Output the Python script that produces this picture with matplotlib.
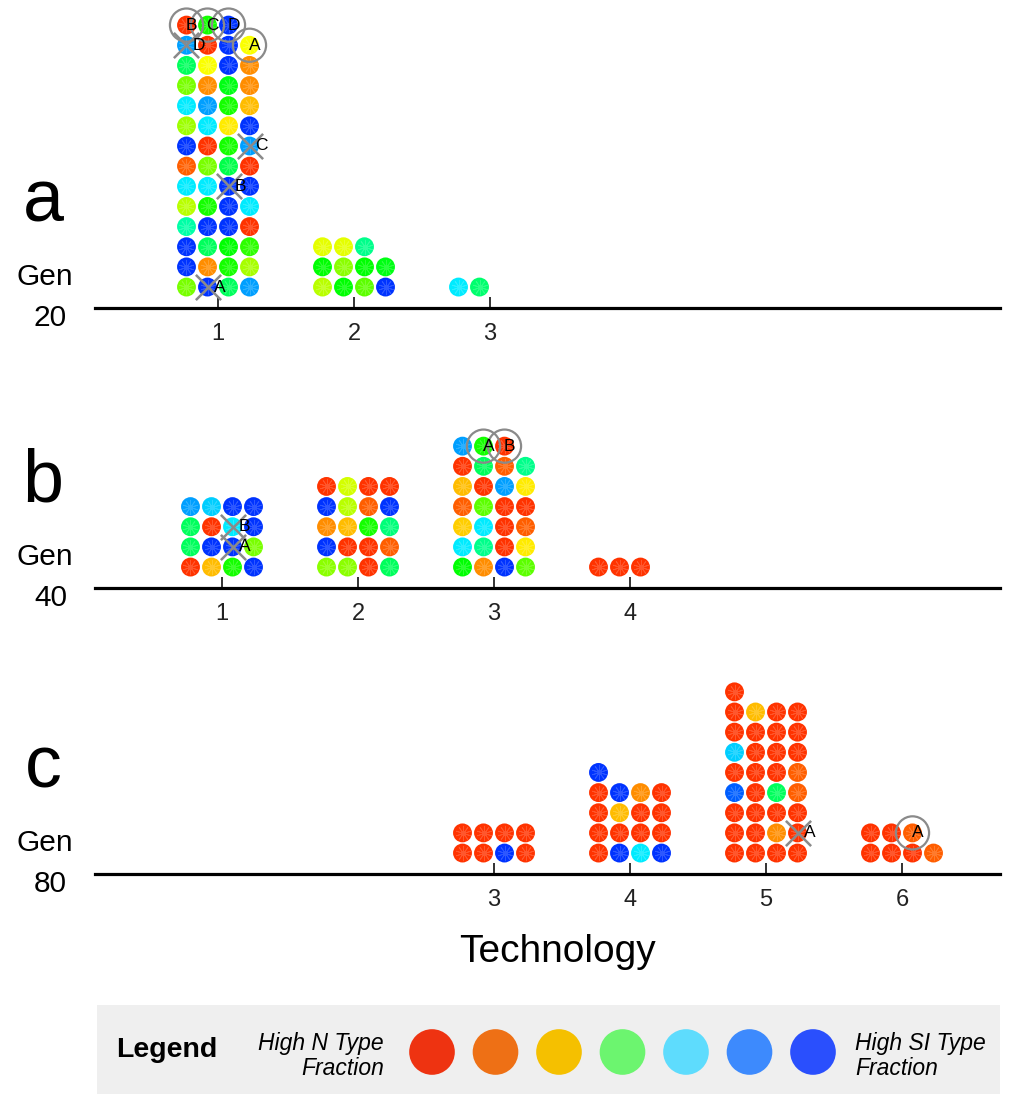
import numpy as np
import matplotlib
matplotlib.use("Agg")
import matplotlib.pyplot as plt
import matplotlib.colors as mcolors

plt.rcParams["font.family"] = ["Liberation Sans", "DejaVu Sans"]

# composition of each individual: 0 = high N type fraction, 1 = high SI type fraction
# listed per technology, filled bottom row first, left to right, four per row
GEN20 = {
    1: [0.37, 1.0, 0.6, 0.88,
        1.0, 0.1, 0.48, 0.32,
        1.0, 0.6, 0.5, 0.45,
        0.68, 1.0, 1.0, 0.0,
        0.3, 0.48, 1.0, 0.8,
        0.8, 0.8, 1.0, 1.0,
        0.05, 0.37, 0.58, 0.0,
        1.0, 0.0, 0.48, 0.88,
        0.33, 0.8, 0.2, 1.0,
        0.8, 0.88, 0.48, 0.15,
        0.37, 0.1, 0.52, 0.1,
        0.6, 0.23, 1.0, 0.1,
        0.88, 0.0, 1.0, 0.23,
        0.0, 0.48, 1.0],
    2: [0.3, 0.5, 0.4, 1.0,
        0.5, 0.35, 0.5, 0.52,
        0.25, 0.25, 0.65],
    3: [0.8, 0.62],
}
GEN40 = {
    1: [0.0, 0.15, 0.48, 1.0,
        0.6, 1.0, 1.0, 0.37,
        0.6, 0.0, 0.8, 1.0,
        0.88, 0.83, 1.0, 1.0],
    2: [0.35, 0.35, 0.0, 0.6,
        1.0, 0.0, 0.0, 0.05,
        0.1, 0.15, 0.48, 0.63,
        1.0, 0.3, 0.05, 1.0,
        0.0, 0.27, 0.0, 0.0],
    3: [0.5, 0.1, 1.0, 0.4,
        0.8, 0.65, 0.0, 0.2,
        0.17, 0.8, 0.0, 0.05,
        0.05, 0.4, 0.0, 0.0,
        0.15, 0.0, 0.88, 0.2,
        0.0, 0.6, 0.05, 0.65,
        0.88, 0.48, 0.0],
    4: [0.0, 0.0, 0.0],
}
GEN80 = {
    3: [0.0, 0.0, 1.0, 0.0,
        0.0, 0.0, 0.0, 0.0],
    4: [0.0, 1.0, 0.8, 1.0,
        0.0, 0.0, 0.0, 0.0,
        0.0, 0.15, 0.0, 0.0,
        0.0, 1.0, 0.1, 0.0,
        1.0],
    5: [0.0, 0.0, 0.0, 0.0,
        0.0, 0.0, 0.1, 0.0,
        0.0, 0.0, 0.0, 0.0,
        0.95, 0.0, 0.6, 0.05,
        0.0, 0.0, 0.0, 0.05,
        0.83, 0.0, 0.0, 0.0,
        0.0, 0.0, 0.0, 0.0,
        0.0, 0.15, 0.0, 0.0,
        0.0],
    6: [0.0, 0.0, 0.0, 0.05,
        0.0, 0.0, 0.05],
}

# marked individuals: (kind, technology, index in stack, label)
MARKS20 = [("ring", 1, 52, "B"), ("ring", 1, 53, "C"), ("ring", 1, 54, "D"),
           ("ring", 1, 51, "A"), ("cross", 1, 48, "D"), ("cross", 1, 31, "C"),
           ("cross", 1, 22, "B"), ("cross", 1, 1, "A")]
MARKS40 = [("cross", 1, 10, "B"), ("cross", 1, 6, "A"),
           ("ring", 3, 25, "A"), ("ring", 3, 26, "B")]
MARKS80 = [("cross", 5, 7, "A"), ("ring", 6, 6, "A")]

PANELS = [("a", "20", GEN20, MARKS20, [1, 2, 3]),
          ("b", "40", GEN40, MARKS40, [1, 2, 3, 4]),
          ("c", "80", GEN80, MARKS80, [3, 4, 5, 6])]

LEGEND_COLORS = ["#ee3311", "#ee7015", "#f5c000", "#6cf56f",
                 "#5edcfd", "#3d8afd", "#2a4ffd"]

# red -> yellow -> green -> cyan -> blue along the hue wheel
_h = np.linspace(12, 228, 256) / 360.0
_hsv = np.stack([_h, np.ones_like(_h), np.ones_like(_h)], axis=1)
cmap = mcolors.ListedColormap(mcolors.hsv_to_rgb(_hsv))

W, H = 1012, 1094
fig = plt.figure(figsize=(W / 100, H / 100), dpi=100)


def px_axes(x0, y0, x1, y1):
    return fig.add_axes([x0 / W, 1 - y1 / H, (x1 - x0) / W, (y1 - y0) / H])


def ftext(x, y, s, **kw):
    fig.text(x / W, 1 - y / H, s, **kw)


ROW = 20.15     # px per row of dots
TECH = 136.0    # px per technology step
COL = 21.0 / TECH
layout = [(308, 218), (588, 222), (874, 222)]   # baseline px, x of technology 1

for (letter, gen, data, marks, ticks), (base, t1) in zip(PANELS, layout):
    ax = px_axes(95, base - 300, 1000, base)
    ax.set_xlim(1 + (95 - t1) / TECH, 1 + (1000 - t1) / TECH)
    ax.set_ylim(0, 300 / ROW)
    ax.patch.set_alpha(0)
    for s in ["top", "left", "right"]:
        ax.spines[s].set_visible(False)
    ax.spines["bottom"].set_linewidth(2.3)
    ax.set_yticks([])
    ax.set_xticks(ticks)
    ax.set_xticklabels([str(t) for t in ticks], fontsize=17, color="#222222")
    ax.tick_params(axis="x", direction="in", length=8, width=1.3, pad=11, color="#222222")
    ax.set_axisbelow(True)

    pos = {}
    for tech, vals in data.items():
        vals = np.asarray(vals)
        idx = np.arange(len(vals))
        xs = tech + (idx % 4 - 1.5) * COL
        ys = idx // 4 + 1.04
        pos[tech] = (xs, ys)
        ax.scatter(xs, ys, s=185, c=vals, cmap=cmap, vmin=0, vmax=1,
                   edgecolors="none", zorder=3, clip_on=False)
        ax.scatter(xs, ys, s=110, marker=(10, 2, 0), c="white", alpha=0.18,
                   linewidths=0.6, zorder=4, clip_on=False)

    for kind, tech, i, lab in marks:
        x, y = pos[tech][0][i], pos[tech][1][i]
        if kind == "ring":
            ax.scatter([x], [y], s=570, facecolors="none", edgecolors="#8a8a8a",
                       linewidths=1.6, zorder=5, clip_on=False)
            ax.text(x + 5 / TECH, y, lab, fontsize=12.5, ha="center", va="center",
                    zorder=6, clip_on=False)
        else:
            ax.scatter([x], [y], s=330, marker="x", c="#8a8a8a",
                       linewidths=1.8, zorder=5, clip_on=False)
            ax.text(x + 12 / TECH, y, lab, fontsize=12.5, ha="center", va="center",
                    zorder=6, clip_on=False)

    ftext(43, base - 106, letter, fontsize=53, ha="center", va="center")
    ftext(73, base - 31, "Gen", fontsize=21.5, ha="right", va="center")
    ftext(67, base + 10, gen, fontsize=21.5, ha="right", va="center")

ftext(557, 952, "Technology", fontsize=28, ha="center", va="center")

# legend strip
lax = px_axes(97, 1005, 1000, 1094)
lax.set_xlim(97, 1000)
lax.set_ylim(1094, 1005)
lax.set_facecolor("#efefef")
for s in lax.spines.values():
    s.set_visible(False)
lax.set_xticks([])
lax.set_yticks([])
lax.text(167, 1050, "Legend", fontsize=20.5, fontweight="bold", ha="center", va="center")
lax.text(384, 1056, "High N Type\nFraction", fontsize=16.5, style="italic",
         ha="right", va="center", multialignment="right", linespacing=1.15)
lax.text(855, 1056, "High SI Type\nFraction", fontsize=16.5, style="italic",
         ha="left", va="center", multialignment="left", linespacing=1.15)
cx = np.linspace(432, 813, len(LEGEND_COLORS))
lax.scatter(cx, np.full(len(cx), 1052), s=1080, c=LEGEND_COLORS, edgecolors="none")

fig.savefig("out.png", dpi=100)
